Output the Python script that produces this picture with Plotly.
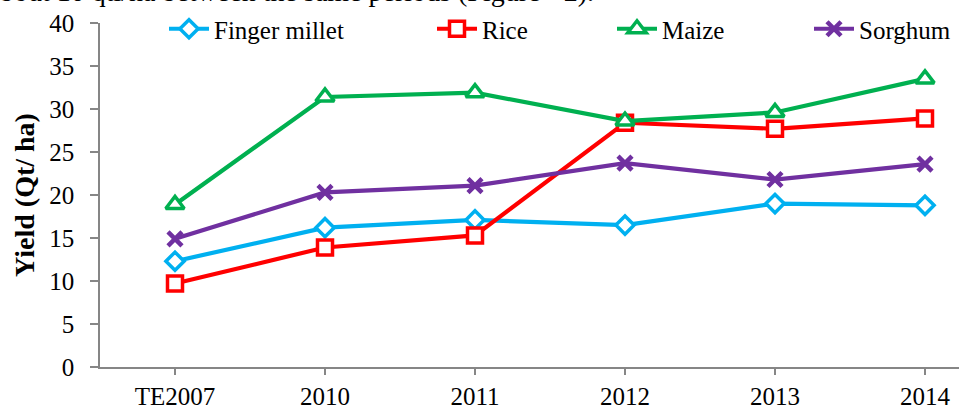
import plotly.graph_objects as go

categories = ["TE2007", "2010", "2011", "2012", "2013", "2014"]
finger_millet = [12.3, 16.2, 17.1, 16.5, 19.0, 18.8]
rice = [9.7, 13.9, 15.3, 28.4, 27.7, 28.9]
maize = [18.9, 31.4, 31.9, 28.6, 29.6, 33.5]
sorghum = [14.9, 20.3, 21.1, 23.7, 21.8, 23.6]

series = [
    ("Finger millet", finger_millet, "#00B0F0", "diamond", 14, "legend"),
    ("Rice", rice, "#FF0000", "square", 15, "legend2"),
    ("Maize", maize, "#00B050", "triangle-up", 16, "legend3"),
    ("Sorghum", sorghum, "#7030A0", "x-thin", 14, "legend4"),
]

FONT = "Liberation Serif"
W, H = 959, 409
L, R, T, B = 100, 0, 23, 42
pw, ph = W - L - R, H - T - B

fig = go.Figure()
for name, vals, color, sym, size, leg in series:
    if sym == "x-thin":
        marker = dict(symbol=sym, size=size, color=color, line=dict(color=color, width=4.5))
    else:
        marker = dict(symbol=sym, size=size, color="white", line=dict(color=color, width=3.5))
    fig.add_trace(go.Scatter(
        x=list(range(len(categories))), y=vals, name=name, mode="lines+markers",
        line=dict(color=color, width=4.2), marker=marker, legend=leg,
    ))

def px_x(px):
    return (px - L) / pw

def px_y(py):
    return 1 - (py - T) / ph

leg_text_starts = [215, 483, 663, 860]
leg_common = dict(orientation="h", yanchor="middle", y=px_y(29), xanchor="left",
                  font=dict(family=FONT, size=25, color="black"),
                  bgcolor="rgba(0,0,0,0)", borderwidth=0, itemwidth=40)
layout_legends = {}
for i, ts in enumerate(leg_text_starts):
    key = "legend" if i == 0 else f"legend{i+1}"
    layout_legends[key] = dict(leg_common, x=px_x(ts - 51))

fig.update_layout(
    width=W, height=H,
    margin=dict(l=L, r=R, t=T, b=B),
    plot_bgcolor="white", paper_bgcolor="white",
    font=dict(family=FONT, size=25, color="black"),
    showlegend=True,
    **layout_legends,
)

fig.update_xaxes(
    range=[-0.5, (W - 175) / 150.0],
    tickmode="array", tickvals=list(range(len(categories))), ticktext=categories,
    showline=True, linecolor="#868686", linewidth=1.5,
    ticks="outside", tickson="boundaries", ticklen=6, tickcolor="#868686", tickwidth=1.5,
    showgrid=False, zeroline=False, automargin=False,
    tickfont=dict(family=FONT, size=25, color="black"),
)
fig.update_yaxes(
    range=[0, 40], dtick=5,
    showline=True, linecolor="#868686", linewidth=1.5,
    ticks="outside", ticklen=8, tickcolor="#868686", tickwidth=1.5,
    ticklabelstandoff=11,
    showgrid=False, zeroline=False, automargin=False,
    tickfont=dict(family=FONT, size=25, color="black"),
    title=dict(text="<b>Yield (Qt/ ha)</b>", font=dict(family=FONT, size=28, color="black"), standoff=6),
)

fig.add_annotation(
    text="bout 10 qtl/ha between the same periods (Figure - 2).",
    xref="paper", yref="paper", x=px_x(-2), y=px_y(9), xanchor="left", yanchor="bottom",
    showarrow=False, font=dict(family=FONT, size=28, color="black"),
)

fig.write_html(
    "out.html",
    config={"displayModeBar": False},
    post_script="document.body.style.margin='0';document.body.style.padding='0';",
)
